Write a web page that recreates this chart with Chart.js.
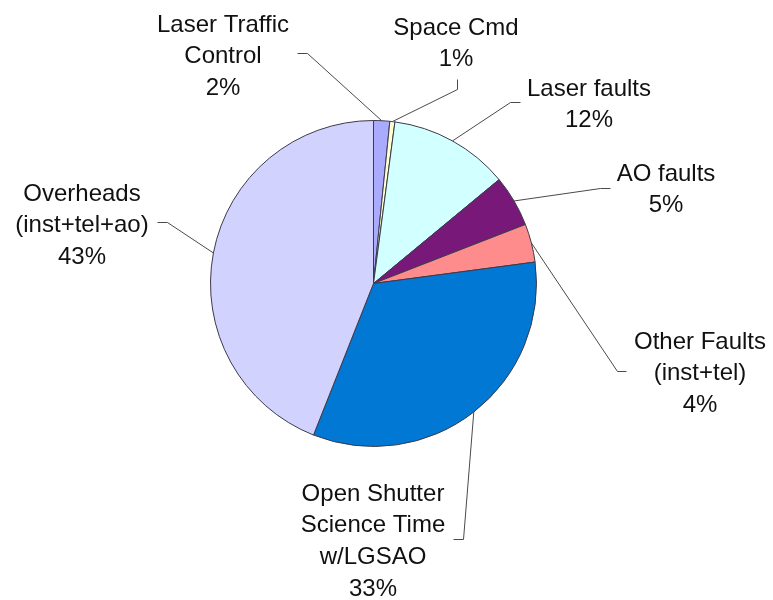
<!DOCTYPE html>
<html>
<head>
<meta charset="utf-8">
<style>
  html, body { margin: 0; padding: 0; background: #ffffff; }
  #wrap { width: 773px; height: 600px; }
</style>
<script src="https://cdn.jsdelivr.net/npm/chart.js@4"></script>
</head>
<body>
<div id="wrap"><canvas id="c" width="773" height="600"></canvas></div>
<script>
const categories = [
  "Laser Traffic Control",
  "Space Cmd",
  "Laser faults",
  "AO faults",
  "Other Faults (inst+tel)",
  "Open Shutter Science Time w/LGSAO",
  "Overheads (inst+tel+ao)"
];
const values = [1.6, 0.5, 11.9, 5.1, 3.8, 33.1, 44.0];
const labelLines = [
  ["Laser Traffic", "Control"],
  ["Space Cmd"],
  ["Laser faults"],
  ["AO faults"],
  ["Other Faults", "(inst+tel)"],
  ["Open Shutter", "Science Time", "w/LGSAO"],
  ["Overheads", "(inst+tel+ao)"]
];
const percentLabels = ["2%", "1%", "12%", "5%", "4%", "33%", "43%"];

const sliceColors = ["#AAAAFF", "#FFFFD2", "#D2FFFF", "#78197A", "#FF8C8C", "#0078D4", "#D2D2FF"];

// label placement (pixels): text centre x, first line cap-centre y, leader elbow & end
const labelPlacement = [
  { x: 223, y: 23,  elbow: [307, 53],  end: [297, 53] },
  { x: 456, y: 26,  elbow: [457, 89],  end: [457, 79] },
  { x: 589, y: 87,  elbow: [510, 102], end: [520, 102] },
  { x: 666, y: 172, elbow: [600, 188], end: [610, 188] },
  { x: 700, y: 340, elbow: [617, 371], end: [626, 371] },
  { x: 373, y: 492, elbow: [463, 539], end: [453, 539] },
  { x: 82,  y: 192, elbow: [167, 222], end: [157, 222] }
];

const labelPlugin = {
  id: 'pieLabels',
  afterDraw(chart) {
    const ctx = chart.ctx;
    const meta = chart.getDatasetMeta(0);
    ctx.save();
    const fontSize = 24;
    const step = 31.7;
    meta.data.forEach((arc, i) => {
      const p = labelPlacement[i];
      const props = arc.getProps(['x', 'y', 'startAngle', 'endAngle', 'outerRadius'], true);
      const mid = (props.startAngle + props.endAngle) / 2;
      const rx = props.x + Math.cos(mid) * props.outerRadius;
      const ry = props.y + Math.sin(mid) * props.outerRadius;
      ctx.strokeStyle = '#4a4a4a';
      ctx.lineWidth = 1;
      ctx.beginPath();
      ctx.moveTo(rx, ry);
      ctx.lineTo(p.elbow[0] + 0.5, p.elbow[1] + 0.5);
      ctx.lineTo(p.end[0] + 0.5, p.end[1] + 0.5);
      ctx.stroke();

      const lines = labelLines[i].concat([percentLabels[i]]);
      ctx.fillStyle = '#111111';
      ctx.font = fontSize + 'px "Liberation Sans", Arial, sans-serif';
      ctx.textAlign = 'center';
      ctx.textBaseline = 'alphabetic';
      lines.forEach((t, k) => {
        const cy = p.y + k * step;
        ctx.fillText(t, p.x, cy + 0.358 * fontSize);
      });
    });
    ctx.restore();
  }
};

new Chart(document.getElementById('c'), {
  type: 'pie',
  data: {
    labels: categories,
    datasets: [{
      data: values,
      backgroundColor: sliceColors,
      borderColor: '#3a3a4a',
      borderWidth: 1,
      hoverOffset: 0
    }]
  },
  options: {
    responsive: false,
    animation: false,
    events: [],
    layout: { padding: { left: 210, right: 236, top: 120, bottom: 153 } },
    plugins: {
      legend: { display: false },
      tooltip: { enabled: false },
      title: { display: false }
    }
  },
  plugins: [labelPlugin]
});
</script>
</body>
</html>
